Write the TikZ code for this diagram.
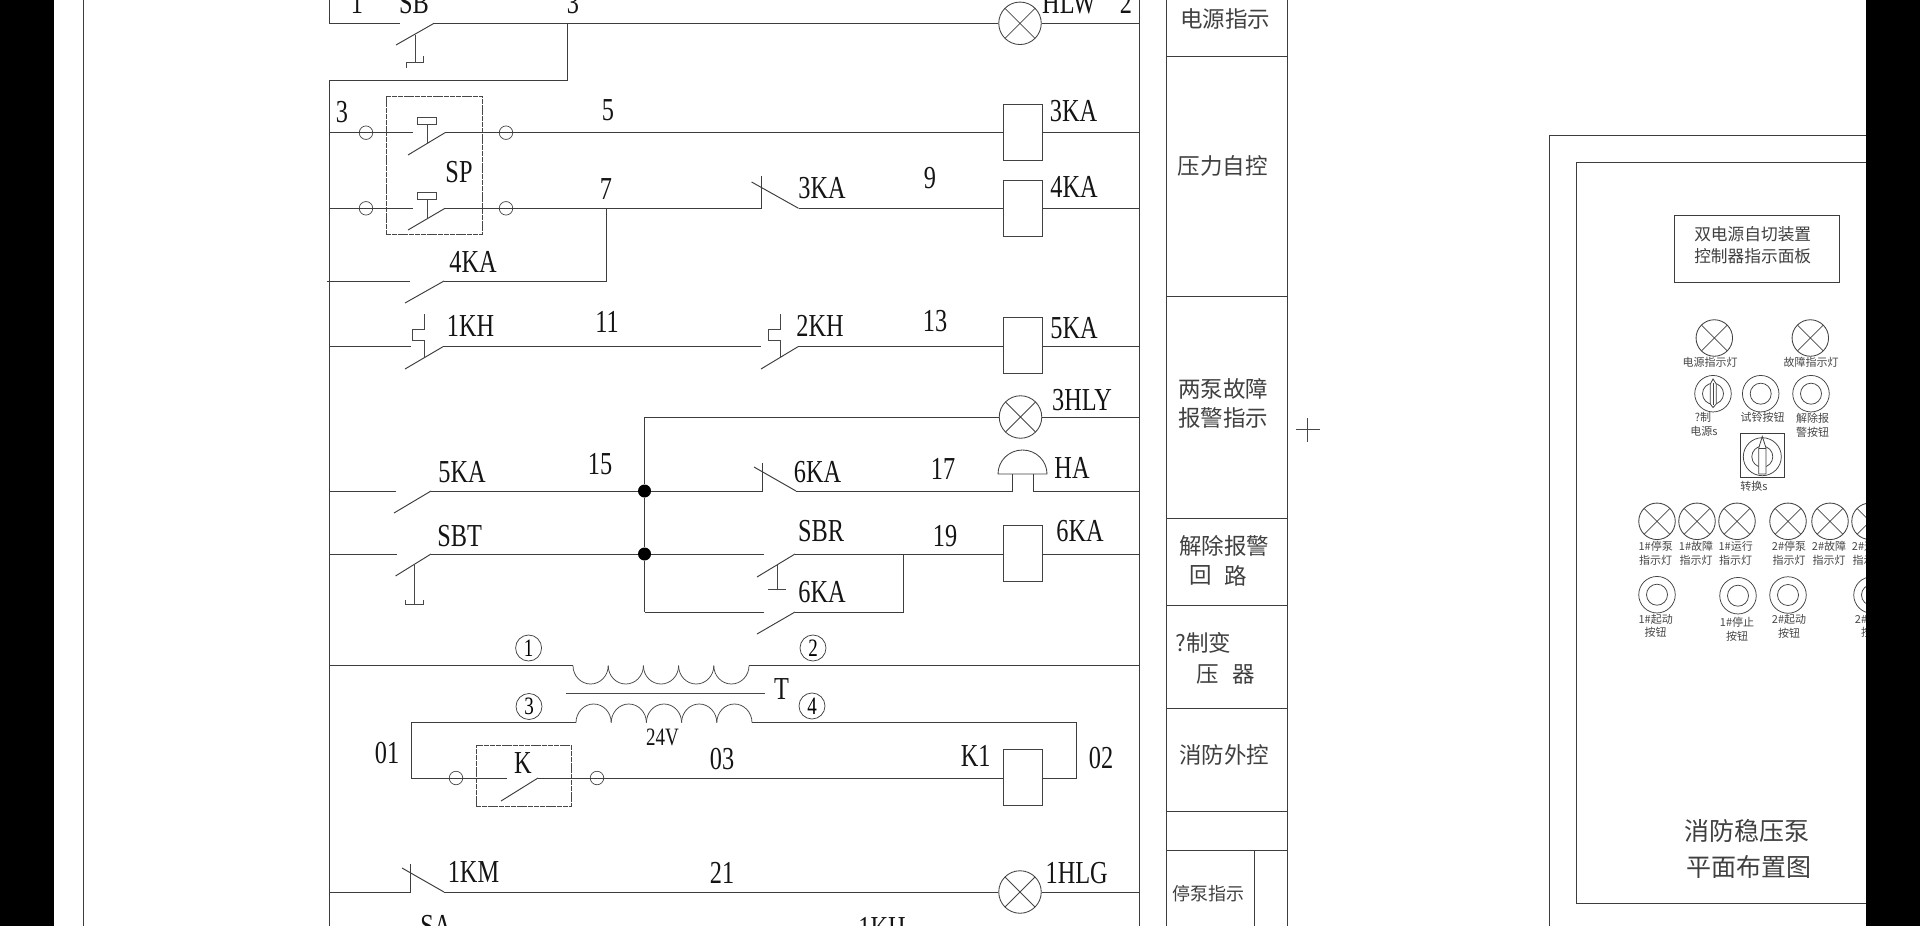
\documentclass[tikz,border=0pt]{standalone}
\usepackage{fontspec}
\setmainfont{Liberation Serif}
\newfontfamily\latf[FakeStretch=0.76]{Liberation Serif}
\newfontfamily\cjkf{Noto Sans CJK SC}
\usetikzlibrary{calc}
\newcommand{\contact}[6]{%name,left x,blade x,right x,row y,blade end y
  \coordinate (#1-l) at (#2,#5);
  \coordinate (#1-r) at (#4,#5);
  \coordinate (#1-b) at (#3,#6);
  \draw[wire] (#1-b) -- (#1-r);}
\tikzset{
  wire/.style={line width=0.95pt,draw=black!76},
  thin wire/.style={line width=0.75pt,draw=black!72},
  lab/.style={font=\latf\fontsize{32}{32}\selectfont,inner sep=0pt,text=black!92},
  smalllab/.style={lab,font=\latf\fontsize{25}{25}\selectfont},
  cn/.style={font=\cjkf\fontsize{22.5}{22.5}\selectfont,inner sep=0pt,text=black!75},
  cnsm/.style={font=\cjkf\fontsize{18}{18}\selectfont,inner sep=0pt,text=black!75},
  cnbox/.style={font=\cjkf\fontsize{16.7}{16.7}\selectfont,inner sep=0pt,text=black!75},
  cnbig/.style={font=\cjkf\fontsize{25}{25}\selectfont,inner sep=0pt,text=black!75},
  pan/.style={font=\cjkf\fontsize{11}{11}\selectfont,inner sep=0pt,text=black!72},
  coil/.style={draw=black!74,line width=0.95pt,fill=white,minimum width=39pt,minimum height=56pt,inner sep=0pt},
  lampn/.style={circle,draw=black!74,line width=0.85pt,fill=white,minimum size=#1,inner sep=0pt,
    path picture={\draw[line width=0.75pt,draw=black!72]
      (path picture bounding box.north west) -- (path picture bounding box.south east)
      (path picture bounding box.north east) -- (path picture bounding box.south west);}},
  lampn/.default=42.5pt,
  ring/.style={circle,draw=black!72,line width=0.7pt,minimum size=13.5pt,inner sep=0pt},
  dot/.style={circle,fill=black,minimum size=13pt,inner sep=0pt},
  dashbox/.style={draw=black!72,line width=0.9pt,dash pattern=on 5pt off 0.8pt,inner sep=0pt},
  btn/.style={circle,draw=black!74,line width=0.75pt,minimum size=36.5pt,inner sep=0pt},
  btninner/.style={circle,draw=black!74,line width=0.75pt,minimum size=21pt,inner sep=0pt},
  circnum/.style={circle,draw=black!74,line width=0.75pt,minimum size=26pt,inner sep=0pt,font=\latf\fontsize{25}{25}\selectfont},
  panelrect/.style={draw=black!76,line width=0.95pt,inner sep=0pt},
}
\begin{document}
\begin{tikzpicture}[x=1pt,y=-1pt]
\path[use as bounding box,clip] (0,0) rectangle (1920,926);
\fill[white] (0,0) rectangle (1920,926);

% frame lines
\coordinate (ft) at (83.3,0); \coordinate (fb) at (83.3,926);
\draw[wire] (ft) -- (fb);
\coordinate (bl) at (329,80);
\coordinate (blb) at (329,926);
\coordinate (bltop) at (329,0);
\coordinate (br) at (1139.5,0);
\coordinate (brb) at (1139.5,926);
\draw[wire] (bl) -- (blb);
\draw[wire] (br) -- (brb);

% row 1
\contact{sb}{400}{396}{434}{23.3}{45}
\node[lampn] (hlw) at (1020,23.3) {};
\coordinate (j3) at (567,23.3);
\draw[wire] (bltop) |- (sb-l);
\draw[wire] (sb-r) -- (hlw);
\draw[wire] (hlw) -- (br |- hlw);
\draw[wire] (j3) -- (567,80) -- (bl);
\draw[thin wire] (415,35) -- (415,62) -- (423,62) -- (423,56);
\draw[thin wire] (415,62) -- (406,62) -- (406,68);
\node[lab] (t1) at (357,3) {1};
\node[lab] (tsb) at (414,3) {SB};
\node[lab] (t3a) at (573,3) {3};
\node[lab] (thlw) at (1069,3) {HLW};
\node[lab] (t2) at (1126,3) {2};

% SP box
\node[dashbox,minimum width=96pt,minimum height=138pt] (spbox) at (434,165) {};
\contact{sp1}{413}{408}{445}{132.7}{155}
\contact{sp2}{413}{408}{445}{208.3}{230}
\node[ring] (r1) at (366,132.7) {};
\node[ring] (r2) at (506,132.7) {};
\node[ring] (r3) at (366,208.3) {};
\node[ring] (r4) at (506,208.3) {};
\draw[wire] (bl |- sp1-l) -- (sp1-l);
\draw[wire] (bl |- sp2-l) -- (sp2-l);
\foreach \yy/\yt/\ym in {132.7/120.5/143,208.3/196/218.5}{
  \draw[thin wire,fill=white] (417.5,\yt-3.5) rectangle (436,\yt+3.5);
  \draw[thin wire] (427,\yt+3.5) -- (427,\ym);
}
\node[coil] (c3ka) at (1022.5,132.7) {};
\node[coil] (c4ka) at (1022.5,208.3) {};
\draw[wire] (sp1-r) -- (c3ka);
\draw[wire] (c3ka) -- (br |- c3ka);
\contact{k3}{761}{751.6}{798.5}{208.3}{182}
\draw[wire] (sp2-r) -- (k3-l) -- (761,176);
\draw[wire] (k3-r) -- (c4ka);
\draw[wire] (c4ka) -- (br |- c4ka);
\node[lab] (t3b) at (342,112) {3};
\node[lab] (tsp) at (459,172) {SP};
\node[lab] (t5) at (608,110) {5};
\node[lab] (t7) at (606,189) {7};
\node[lab] (t3ka2) at (822,188) {3KA};
\node[lab] (t9) at (930,178) {9};
\node[lab] (t3ka) at (1073.5,111) {3KA};
\node[lab] (t4ka) at (1074,187) {4KA};

% 4KA row
\contact{k4}{410}{405}{444}{281}{303}
\coordinate (j7) at (606,208.3);
\coordinate (stub) at (326.5,281);
\draw[wire] (stub) -- (k4-l);
\draw[wire] (k4-r) -- (606,281) -- (j7);
\node[lab] (t4kab) at (473,262) {4KA};

% KH row
\contact{kh1}{411}{405}{443}{346.7}{369}
\contact{kh2}{761}{761}{798}{346.7}{369}
\node[coil] (c5ka) at (1022.5,345.5) {};
\draw[wire] (bl |- kh1-l) -- (kh1-l);
\draw[wire] (kh1-r) -- (kh2-l);
\draw[wire] (kh2-r) -- (kh2-r -| c5ka.west);
\draw[wire] (kh2-r -| c5ka.east) -- (kh2-r -| br);
\draw[thin wire] (424.5,314) -- (424.5,329) -- (412,329) -- (412,340) -- (424.5,340) -- (424.5,357);
\draw[thin wire] (780,314) -- (780,329) -- (768.5,329) -- (768.5,340) -- (780,340) -- (780,357);
\node[lab] (t1kh) at (470.6,326) {1KH};
\node[lab] (t11) at (607,322) {11};
\node[lab] (t2kh) at (820,326) {2KH};
\node[lab] (t13) at (935,321) {13};
\node[lab] (t5ka) at (1074,328) {5KA};

% alarm block
\node[dot] (d1) at (644.5,491) {};
\node[dot] (d2) at (644.5,554) {};
\coordinate (top) at (644.5,417);
\coordinate (low) at (644.5,612);
\node[lampn] (l3) at (1020.5,417) {};
\draw[wire] (top) -- (d1);
\draw[wire] (d1) -- (d2);
\draw[wire] (d2) -- (low);
\draw[wire] (top) -- (l3);
\draw[wire] (l3) -- (br |- l3);
\contact{k5}{396}{394}{431}{491}{513}
\draw[wire] (bl |- k5-l) -- (k5-l);
\draw[wire] (k5-r) -- (d1);
\contact{k6}{762.5}{754}{796}{491}{467}
\draw[wire] (d1) -- (k6-l) -- (762.5,463);
\coordinate (ha1) at (1012.7,491);
\coordinate (ha2) at (1033.7,491);
\draw[wire] (k6-r) -- (ha1) -- (1012.7,474);
\draw[wire] (br |- ha2) -- (ha2) -- (1033.7,474);
\draw[line width=0.85pt,draw=black!74] (998,474) arc[start angle=180,end angle=0,x radius=24.5pt,y radius=24pt] -- cycle;
\contact{sbt}{397}{395.5}{431}{554}{576}
\draw[wire] (bl |- sbt-l) -- (sbt-l);
\draw[wire] (sbt-r) -- (d2);
\draw[thin wire] (414,565) -- (414,604) (405,600) -- (405,604) -- (423,604) -- (423,600);
\contact{sbr}{764}{757}{795}{554}{577}
\draw[wire] (d2) -- (sbr-l);
\draw[thin wire] (777,564) -- (777,589) (768,589) -- (786,589);
\node[coil] (c6ka) at (1022.5,553.5) {};
\draw[wire] (sbr-r) -- (sbr-r -| c6ka.west);
\draw[wire] (sbr-r -| c6ka.east) -- (sbr-r -| br);
\contact{k6b}{764}{757}{795}{612}{634}
\draw[wire] (low) -- (k6b-l);
\draw[wire] (k6b-r) -- (903,612) -- (903,554);
\node[lab] (t5kab) at (462,472) {5KA};
\node[lab] (t15) at (600,464) {15};
\node[lab] (t6ka) at (817.5,472) {6KA};
\node[lab] (t17) at (943,469) {17};
\node[lab] (t3hly) at (1082,400) {3HLY};
\node[lab] (tha) at (1072,468) {HA};
\node[lab] (tsbt) at (459.6,536) {SBT};
\node[lab] (tsbr) at (821,531.5) {SBR};
\node[lab] (t19) at (945,536) {19};
\node[lab] (t6kac) at (1080,531) {6KA};
\node[lab] (t6kab) at (822,592.5) {6KA};

% transformer
\coordinate (tp1) at (573,665.7);
\coordinate (tp2) at (749,665.7);
\draw[wire] (bl |- tp1) -- (tp1);
\draw[wire] (tp2) -- (br |- tp2);
\foreach \i in {0,...,4}{
  \draw[thin wire] ($(tp1)+(\i*35.2,0)$) arc[start angle=180,end angle=360,x radius=17.6pt,y radius=18.3pt];
}
\coordinate (ts1) at (576,722.7);
\coordinate (ts2) at (752,722.7);
\foreach \i in {0,...,4}{
  \draw[thin wire] ($(ts1)+(\i*35.2,0)$) arc[start angle=180,end angle=0,x radius=17.6pt,y radius=18.7pt];
}
\coordinate (ironl) at (566,693);
\coordinate (ironr) at (765,693);
\draw[thin wire] (ironl) -- (ironr);
\node[circnum] (n1) at (528.6,648) {1};
\node[circnum] (n2) at (813,648) {2};
\node[circnum] (n3) at (529,706.5) {3};
\node[circnum] (n4) at (812,706) {4};
\node[lab] (tt) at (781.6,689) {T};
\node[smalllab] (t24) at (662.5,737) {24V};

% K circuit
\coordinate (s1) at (411.4,722.7);
\coordinate (s2) at (411.4,778);
\coordinate (e1) at (1076.7,722.7);
\coordinate (e2) at (1076.7,778);
\node[dashbox,minimum width=95pt,minimum height=61pt] (kbox) at (523.5,775.5) {};
\node[ring] (r5) at (456,778) {};
\node[ring] (r6) at (597,778) {};
\contact{kk}{507}{501}{538}{778}{801}
\node[coil] (ck1) at (1022.5,777.5) {};
\draw[wire] (ts1) -- (s1) -- (s2) -- (kk-l);
\draw[wire] (kk-r) -- (kk-r -| ck1.west);
\draw[wire] (e2 -| ck1.east) -- (e2) -- (e1) -- (ts2);
\node[lab] (t01) at (387,753) {01};
\node[lab] (tk) at (523,763) {K};
\node[lab] (t03) at (722,759) {03};
\node[lab] (tk1) at (975.7,756) {K1};
\node[lab] (t02) at (1101,758) {02};

% 1KM row
\contact{km}{410}{402}{444}{892}{868}
\node[lampn] (l1) at (1020,892) {};
\draw[wire] (bl |- km-l) -- (km-l) -- (410,864);
\draw[wire] (km-r) -- (l1);
\draw[wire] (l1) -- (br |- l1);
\node[lab] (t1km) at (473.5,872) {1KM};
\node[lab] (t21) at (722,873) {21};
\node[lab] (t1hlg) at (1076.7,873) {1HLG};
\node[lab] (tsa) at (436,926) {SA};
\node[lab] (t1kh2) at (882,928) {1KH};

% right table
\coordinate (tl) at (1166.7,0); \coordinate (tlb) at (1166.7,926);
\coordinate (tr) at (1287,0); \coordinate (trb) at (1287,926);
\draw[wire] (tl) -- (tlb);
\draw[wire] (tr) -- (trb);
\foreach \yy in {56.7,296.7,518,605.8,708,811,850}{
  \draw[wire] (1166.7,\yy) -- (1287,\yy);
}
\draw[wire] (1254,850) -- (1254,926);
\node[cn] (c1) at (1225,19) {电源指示};
\node[cn] (c2) at (1222.6,166) {压力自控};
\node[cn] (c3) at (1223,388.6) {两泵故障};
\node[cn] (c4) at (1223,418) {报警指示};
\node[cn] (c5) at (1224,546) {解除报警};
\node[cn] (c6a) at (1200.7,575.5) {回};
\node[cn] (c6b) at (1235.7,575.5) {路};
\node[cn,anchor=west] (c7) at (1175.5,643) {?制变};
\node[cn] (c8a) at (1208,674) {压};
\node[cn] (c8b) at (1244,674) {器};
\node[cn] (c9) at (1224,755) {消防外控};
\node[cnsm] (c10) at (1208.7,893.6) {停泵指示};

% cross
\coordinate (xl) at (1296,429.7); \coordinate (xr) at (1320,429.7);
\coordinate (xt) at (1307.7,418); \coordinate (xb) at (1307.7,441.7);
\draw[thin wire] (xl) -- (xr);
\draw[thin wire] (xt) -- (xb);

% panel
\draw[wire] (1549,926) -- (1549,135.7) -- (1880,135.7);
\draw[wire] (1880,162.7) -- (1576,162.7) -- (1576,903) -- (1880,903);
\node[panelrect,minimum width=165.4pt,minimum height=67pt] (title) at (1757,248.5) {};
\node[cnbox] (p1) at (1752.7,234) {双电源自切装置};
\node[cnbox] (p2) at (1752.7,256) {控制器指示面板};

\node[lampn=36.5pt] (pl1) at (1714.3,338) {};
\node[lampn=36.5pt] (pl2) at (1810.3,338) {};
\node[pan] at (1710,362.7) (q1) {电源指示灯};
\node[pan] at (1811,362.7) (q2) {故障指示灯};

\node[btn] (sw1) at (1713,393.7) {};
\node[btninner] (sw1i) at (1713,393.7) {};
\draw[line width=0.8pt,draw=black!74,fill=white] (1710.3,404) -- (1710.3,384) -- (1713,379) -- (1716.3,384) -- (1716.3,404) -- (1713,407.5) -- cycle;
\draw[line width=0.75pt,draw=black!74] (1713,383) -- (1713,405);
\node[btn] (b2) at (1760.7,393.7) {};
\node[btninner] (b2i) at (1760.7,393.7) {};
\node[btn] (b3) at (1811,393.7) {};
\node[btninner] (b3i) at (1811,393.7) {};
\node[pan] (q3) at (1703,417.7) {?制};
\node[pan] (q4) at (1704,431.7) {电源s};
\node[pan] (q5) at (1762.7,417.7) {试铃按钮};
\node[pan] (q6) at (1812.7,418) {解除报};
\node[pan] (q7) at (1812.7,432) {警按钮};

\node[panelrect,minimum width=43.6pt,minimum height=44pt] (swbox) at (1762.5,455) {};
\node[btn,minimum size=38pt] (sw2) at (1762.3,456.7) {};
\node[btninner] (sw2i) at (1762.3,456.7) {};
\draw[line width=0.8pt,draw=black!74,fill=white] (1758.7,474) -- (1766,474) -- (1766,448) -- (1762.3,436.5) -- (1758.7,448) -- cycle;
\draw[line width=0.75pt,draw=black!74] (1758.7,448) -- (1766,448);
\node[pan] (q8) at (1754,486.7) {转换s};

\foreach \nm/\xx in {a/1657,b/1697,c/1737,d/1788,e/1830,f/1870}{
  \node[lampn=36.5pt] (ind\nm) at (\xx,521.3) {};
}
\foreach \nm/\xx/\tx in {a/1655.7/1\#停泵,b/1696/1\#故障,c/1735.7/1\#运行,d/1789/2\#停泵,e/1829/2\#故障,f/1869/2\#运行}{
  \node[pan] (ta\nm) at (\xx,546.7) {\tx};
  \node[pan] (tb\nm) at (\xx,560.5) {指示灯};
}
\foreach \nm/\xx/\yy in {a/1657/594.7,b/1738/595.7,c/1788/595,d/1872/595}{
  \node[btn] (bt\nm) at (\xx,\yy) {};
  \node[btninner] (bi\nm) at (\xx,\yy) {};
}
\foreach \nm/\xx/\yy/\tx in {a/1655.7/619/1\#起动,b/1737/622.7/1\#停止,c/1789/619.7/2\#起动,d/1872/619/2\#停止}{
  \node[pan] (ua\nm) at (\xx,\yy) {\tx};
  \node[pan] (ub\nm) at (\xx,\yy+13.5) {按钮};
}
\node[cnbig] (bigA) at (1747,831) {消防稳压泵};
\node[cnbig] (bigB) at (1749,866.7) {平面布置图};

% black margins
\fill[black] (0,0) rectangle (54,926);
\fill[black] (1866,0) rectangle (1920,926);
\end{tikzpicture}
\end{document}
